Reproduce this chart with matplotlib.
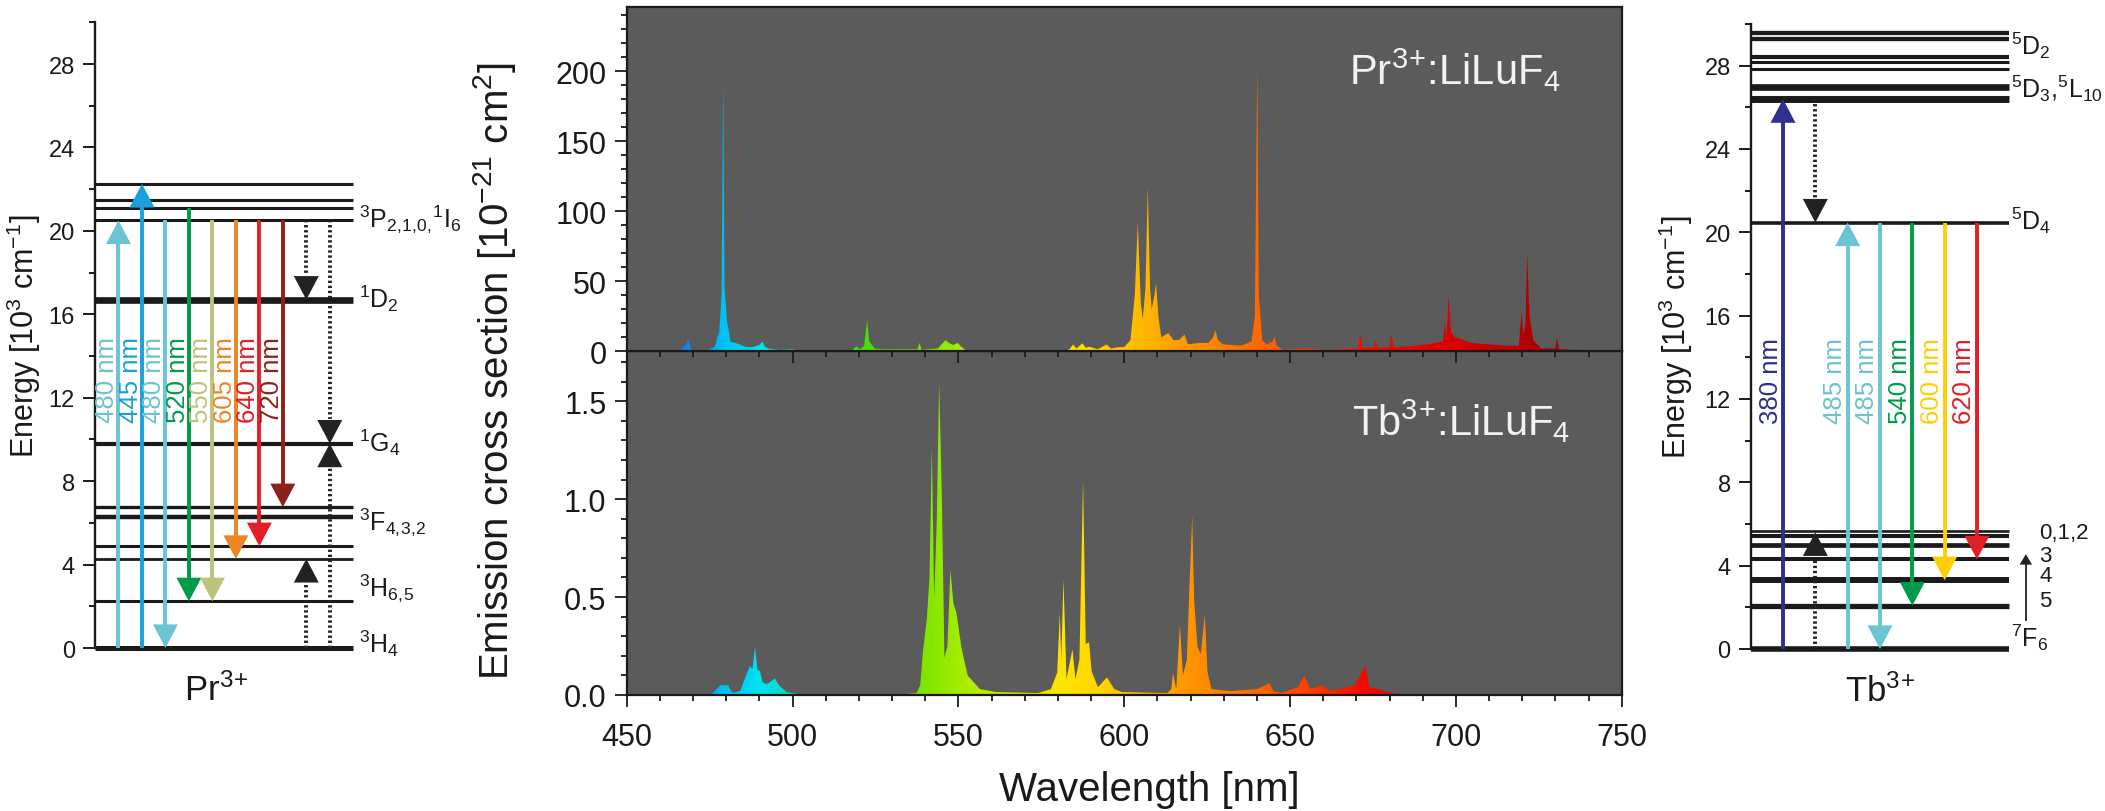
import numpy as np
import matplotlib
matplotlib.use("Agg")
import matplotlib.pyplot as plt
from matplotlib.colors import LinearSegmentedColormap
from matplotlib.patches import Polygon, FancyArrowPatch
from matplotlib.ticker import MultipleLocator, FormatStrFormatter

plt.rcParams['font.family'] = ['Liberation Sans', 'DejaVu Sans']
plt.rcParams['mathtext.fontset'] = 'custom'
plt.rcParams['mathtext.rm'] = 'Liberation Sans'
plt.rcParams['mathtext.it'] = 'Liberation Sans:italic'
plt.rcParams['mathtext.bf'] = 'Liberation Sans:bold'

INK = '#1a1a1a'
ION3 = r'$^{3}$$^{+}$'   # "3+" without operator spacing

# ---------------- Pr3+ energy levels (10^3 cm-1) ----------------
pr_levels = [0.0, 2.24, 4.27, 4.88, 6.3, 6.75, 9.8, 16.7, 20.5, 21.1, 21.5, 22.25]
pr_level_lw = [3.6, 2.2, 2.0, 2.2, 3.2, 2.4, 3.0, 4.8, 2.2, 2.2, 2.2, 2.2]
pr_terms = [r'$^{3}$P$_{2,\!1,\!0,\!}$$^{1}$I$_{6}$', r'$^{1}$D$_{2}$', r'$^{1}$G$_{4}$',
            r'$^{3}$F$_{4,\!3,\!2}$', r'$^{3}$H$_{6,\!5}$', r'$^{3}$H$_{4}$']
pr_term_y = [20.6, 16.8, 9.9, 6.1, 2.9, 0.25]

pr_nm = ['480 nm', '445 nm', '480 nm', '520 nm', '550 nm', '605 nm', '640 nm', '720 nm']
pr_from = [0.0, 0.0, 20.5, 21.1, 20.5, 20.5, 20.5, 20.5]
pr_to = [20.5, 22.25, 0.0, 2.24, 2.24, 4.27, 4.88, 6.75]
pr_colors = ['#6BC4D2', '#1AA0DF', '#6BC4D2', '#009B48', '#BDC27C', '#EE8423', '#E21F26', '#8C2219']
pr_slot = [1, 2, 3, 4, 5, 6, 7, 8]

# non-radiative / cross-relaxation steps
pr_nr_from = [20.5, 0.0, 20.5, 0.0]
pr_nr_to = [16.7, 4.27, 9.8, 9.8]
pr_nr_slot = [9, 9, 10, 10]

# ---------------- Tb3+ energy levels ----------------
tb_levels = [0.0, 2.08, 3.30, 4.30, 4.98, 5.44, 5.66, 20.47,
             26.39, 26.97, 27.83, 28.2, 28.42, 29.26, 29.55]
tb_level_lw = [4.0, 3.8, 4.3, 2.9, 3.4, 2.9, 1.9, 2.6, 5.0, 4.8, 2.2, 2.2, 3.0, 3.1, 3.1]
tb_terms = [r'$^{5}$D$_{2}$', r'$^{5}$D$_{3}$,$^{5}$L$_{10}$', r'$^{5}$D$_{4}$', r'$^{7}$F$_{6}$']
tb_term_y = [29.0, 26.95, 20.6, 0.6]
tb_j = ['0,1,2', '3', '4', '5']
tb_j_y = [5.6, 4.5, 3.55, 2.35]

tb_nm = ['380 nm', '485 nm', '485 nm', '540 nm', '600 nm', '620 nm']
tb_from = [0.0, 0.0, 20.47, 20.47, 20.47, 20.47]
tb_to = [26.39, 20.47, 0.0, 2.08, 3.30, 4.30]
tb_colors = ['#2E2F8E', '#6BC4D2', '#6BC4D2', '#009B48', '#FFCD05', '#E21F26']
tb_slot = [1, 3, 4, 5, 6, 7]

tb_nr_from = [26.39, 0.0]
tb_nr_to = [20.47, 5.6]
tb_nr_slot = [2, 2]

# ---------------- emission cross sections ----------------
pr_wl = [450, 465, 466.6, 468.0, 468.6, 469.3, 470.5, 474, 476.5, 477.9, 478.6, 479.1, 479.5,
         480.3, 480.9, 481.3, 482, 484, 486, 488, 490, 490.9, 491.8, 492.9, 495.9, 499.9,
         501.9, 504, 517.5, 519.3, 520.3, 521.6, 522.5, 523.1, 524.8, 527, 530, 536, 537.7,
         538.3, 538.9, 540.8, 543.8, 546.1, 547.2, 548.4, 549.8, 551, 552.4, 554, 582, 583.5,
         584.6, 585.6, 587.4, 588.4, 589.5, 592, 594.7, 596, 598.1, 600, 601.9, 603.2, 604.1,
         605.0, 605.6, 606.4, 607.1, 607.8, 608.3, 609.1, 609.6, 610.3, 611.2, 613.3, 614.9,
         616.5, 618.2, 619.2, 622.9, 625.4, 626.8, 627.5, 628.3, 629.7, 635.3, 638.4, 639.4,
         640.1, 640.6, 641.6, 643, 644.8, 645.3, 646, 647.8, 654.6, 661.4, 665.7, 670.5,
         671.1, 671.8, 675.3, 675.8, 676.4, 680.1, 680.6, 681.2, 686.2, 691.2, 696.1, 696.7,
         697.2, 697.8, 698.5, 699.8, 704.8, 709.7, 714.6, 719.0, 719.8, 720.4, 721.0, 721.5,
         722.2, 723.3, 725.8, 730.0, 730.5, 731.1, 735.7, 750]
pr_sigma = [0, 0, 1.5, 5, 8.8, 2, 0.5, 0.5, 3, 14, 40, 195, 45,
            20, 13, 7, 6.5, 5, 3, 3, 4.5, 6.9, 3, 2, 1, 1.5,
            0.5, 0, 0, 3.5, 1.5, 4, 22.5, 7, 2, 1.5, 1.5, 1.5, 1.5,
            6, 1, 1.5, 2, 7.9, 6, 4.5, 6, 3, 0.5, 0, 0, 1.5,
            4.8, 2, 5.7, 2.5, 3.3, 1.5, 4.8, 2, 2.9, 3, 8, 40, 92,
            35, 23, 45, 117, 45, 30, 40, 49, 25, 10, 13, 8,
            8, 12, 5, 6, 6, 10, 15, 8, 5, 4, 7, 25,
            207, 40, 8, 5, 7, 11, 4, 1, 2, 1, 1.5, 2,
            13.5, 2.5, 3, 8, 2.5, 3, 12.7, 3, 3.5, 5, 7, 20,
            9, 41, 14, 10, 6, 5, 4, 4, 28, 12, 20, 70.7,
            25, 8, 2, 2, 9.6, 1.5, 1, 0.5]

tb_wl = [450, 474, 476, 478.2, 480.6, 481.5, 482.1, 484.2, 486, 487.2, 487.9, 488.7, 489.4,
         490.2, 491, 492.2, 493.5, 494.7, 495.5, 496.2, 498.2, 502.2, 506, 534, 537.4, 538.5,
         539.3, 540.5, 541.3, 542, 542.7, 543.5, 544.2, 545, 545.8, 546.7, 547.6, 548.5,
         549.4, 551, 552.8, 556.5, 561.4, 574, 577.9, 579.8, 580.6, 581, 581.7, 582.6, 584.4,
         585.3, 586.5, 587.6, 588.4, 589.4, 590.2, 592.1, 594.8, 597, 599.4, 613, 614.2,
         614.7, 615.7, 616.8, 617.7, 618.9, 619.6, 620.5, 621.1, 622.1, 623.1, 624.3, 625.1,
         626.3, 632, 640, 643.8, 645, 647.4, 652.4, 654.3, 656.1, 659.7, 662, 664.7, 669.6,
         672.7, 673.9, 676.4, 678.2, 680.7, 686.8, 750]
tb_sigma = [0, 0, 0.01, 0.05, 0.05, 0.02, 0.012, 0.02, 0.1, 0.15, 0.13, 0.245, 0.13,
            0.12, 0.065, 0.055, 0.07, 0.085, 0.06, 0.045, 0.015, 0.004, 0, 0.005, 0.01, 0.05,
            0.22, 0.39, 0.6, 1.27, 0.49, 0.9, 1.595, 1.03, 0.19, 0.25, 0.64, 0.47,
            0.42, 0.235, 0.1, 0.03, 0.015, 0.01, 0.03, 0.115, 0.42, 0.18, 0.59, 0.08, 0.235,
            0.08, 0.18, 1.10, 0.26, 0.27, 0.12, 0.04, 0.09, 0.03, 0.015, 0.01, 0.03,
            0.11, 0.03, 0.36, 0.1, 0.18, 0.52, 0.915, 0.48, 0.245, 0.21, 0.41, 0.12,
            0.03, 0.02, 0.03, 0.06, 0.02, 0.01, 0.04, 0.10, 0.03, 0.05, 0.02, 0.03, 0.05,
            0.15, 0.04, 0.03, 0.02, 0.01, 0, 0]

# wavelength -> colour used to paint the spectra
spec_nm = [450, 468, 479, 490, 500, 515, 522, 540, 550, 565, 582, 595, 607, 620, 640, 655, 672, 700, 722, 750]
spec_hex = ['#1060FF', '#0A8CF0', '#00C3F3', '#00E3EE', '#12D8B0', '#30E040', '#48E000',
            '#80E600', '#A6EC00', '#D6E800', '#FFE400', '#FFD000', '#FFB400', '#FF9400',
            '#FF6A00', '#FF4000', '#F50A00', '#DC0000', '#B40000', '#8C0000']
spec_cmap = LinearSegmentedColormap.from_list(
    'spec', [((n - 450) / 300, c) for n, c in zip(spec_nm, spec_hex)])

W, H = 2105, 812
fig = plt.figure(figsize=(W / 100, H / 100), dpi=100)


def px_rect(x0, y0, x1, y1):
    return [x0 / W, 1 - y1 / H, (x1 - x0) / W, (y1 - y0) / H]


def arrow(ax, x, y0, y1, color, dotted=False, lw=2.8, hl=17, hw=9):
    # points -> data units along y
    pts_per_unit = ax.get_position().height * H / 100 * 72 / 30.0
    sign = 1 if y1 > y0 else -1
    hl_u = hl / pts_per_unit
    end = y1 - sign * hl_u * (1.05 if dotted else 0.6)
    ax.plot([x, x], [y0, end], color=color, lw=lw,
            ls=(0, (0.6, 0.7)) if dotted else '-',
            solid_capstyle='butt', dash_capstyle='butt', clip_on=False, zorder=3)
    head = FancyArrowPatch((x, y1 - sign * hl_u), (x, y1),
                           arrowstyle=f'-|>,head_length={hl},head_width={hw}',
                           mutation_scale=1, lw=0, color=color,
                           shrinkA=0, shrinkB=0, clip_on=False, zorder=4)
    ax.add_patch(head)


def energy_axes(rect):
    ax = fig.add_axes(rect)
    ax.set_xlim(0, 1)
    ax.set_ylim(0, 30)
    for s in ('top', 'right', 'bottom'):
        ax.spines[s].set_visible(False)
    ax.spines['left'].set_linewidth(1.7)
    ax.spines['left'].set_color(INK)
    ax.set_xticks([])
    ax.yaxis.set_major_locator(MultipleLocator(4))
    ax.yaxis.set_minor_locator(MultipleLocator(2))
    ax.tick_params(axis='y', which='major', length=8.4, width=1.4, labelsize=17,
                   pad=6, colors=INK)
    ax.tick_params(axis='y', which='minor', length=4.2, width=1.4, colors=INK)
    ax.set_ylabel(r'Energy [10$^{3}$ cm$^{-1}$]', fontsize=22, color=INK)
    return ax


# ---- Pr3+ diagram ----
ax_pr = energy_axes(px_rect(95, 23.3, 353, 649))
ax_pr.yaxis.set_label_coords(-0.20, 0.5)
ax_pr.hlines(pr_levels, 0, 1, colors=INK, lw=pr_level_lw, clip_on=False, zorder=2)
for t, y in zip(pr_terms, pr_term_y):
    ax_pr.text(1.023, y, t, fontsize=18, color=INK, ha='left', va='center', clip_on=False)
step = 0.091
for nm, y0, y1, c, s in zip(pr_nm, pr_from, pr_to, pr_colors, pr_slot):
    arrow(ax_pr, s * step, y0, y1, c)
    ax_pr.annotate(nm, (s * step, 12.9), xytext=(-8, 0), textcoords='offset points',
                   rotation=90, ha='center', va='center', fontsize=18.5, color=c)
for y0, y1, s in zip(pr_nr_from, pr_nr_to, pr_nr_slot):
    arrow(ax_pr, s * step, y0, y1, '#222222', dotted=True)
ax_pr.text(0.47, -2.0, 'Pr' + ION3, fontsize=25, color=INK, ha='center', va='center',
           clip_on=False)

# ---- Tb3+ diagram ----
ax_tb = energy_axes(px_rect(1750.7, 25, 2009.3, 650))
ax_tb.yaxis.set_label_coords(-0.215, 0.5)
ax_tb.hlines(tb_levels, 0, 1, colors=INK, lw=tb_level_lw, clip_on=False, zorder=2)
for t, y in zip(tb_terms, tb_term_y):
    ax_tb.text(1.005, y, t, fontsize=18, color=INK, ha='left', va='center', clip_on=False)
for t, y in zip(tb_j, tb_j_y):
    ax_tb.text(1.115, y, t, fontsize=16, color=INK, ha='left', va='center', clip_on=False)
step = 0.125
for nm, y0, y1, c, s in zip(tb_nm, tb_from, tb_to, tb_colors, tb_slot):
    arrow(ax_tb, s * step, y0, y1, c)
    ax_tb.annotate(nm, (s * step, 12.9), xytext=(-9, 0), textcoords='offset points',
                   rotation=90, ha='center', va='center', fontsize=18.5, color=c)
for y0, y1, s in zip(tb_nr_from, tb_nr_to, tb_nr_slot):
    arrow(ax_tb, s * step, y0, y1, '#222222', dotted=True)
# J-sequence arrow of the 7F multiplet
arrow(ax_tb, 1.064, 1.36, 4.55, '#222222', lw=1.3, hl=7.5, hw=4.5)
ax_tb.text(0.5, -2.0, 'Tb' + ION3, fontsize=25, color=INK, ha='center', va='center',
           clip_on=False)


# ---- emission spectra ----
def spectrum_axes(rect, wl, sig, ymax, label, label_xy):
    ax = fig.add_axes(rect)
    ax.set_facecolor('#5B5B5B')
    grad = np.linspace(450, 750, 1500)[None, :]
    im = ax.imshow(grad, extent=(450, 750, 0, ymax), cmap=spec_cmap, vmin=450, vmax=750,
                   aspect='auto', origin='lower', interpolation='bilinear', zorder=2)
    verts = np.column_stack([np.r_[wl[0], wl, wl[-1]], np.r_[0, sig, 0]])
    outline = Polygon(verts, closed=True, facecolor='none', edgecolor='none')
    ax.add_patch(outline)
    im.set_clip_path(outline)
    ax.set_xlim(450, 750)
    ax.set_ylim(0, ymax)
    for s in ax.spines.values():
        s.set_linewidth(1.6)
        s.set_color(INK)
    ax.xaxis.set_major_locator(MultipleLocator(50))
    ax.xaxis.set_minor_locator(MultipleLocator(10))
    ax.tick_params(which='major', length=8.6, width=1.3, labelsize=22, colors=INK)
    ax.tick_params(which='minor', length=4.4, width=1.3, colors=INK)
    ax.tick_params(axis='y', pad=6)
    ax.tick_params(axis='x', pad=11)
    ax.text(label_xy[0], label_xy[1], label, transform=ax.transAxes, fontsize=30,
            color='#F2F2F2', ha='left', va='center', zorder=5)
    return ax


ax_b = spectrum_axes(px_rect(626.7, 352.3, 1621.7, 696), tb_wl, tb_sigma, 1.755,
                     'Tb' + ION3 + r':LiLuF$_{4}$', (0.729, 0.80))
ax_b.yaxis.set_major_locator(MultipleLocator(0.5))
ax_b.yaxis.set_minor_locator(MultipleLocator(0.1))
ax_b.yaxis.set_major_formatter(FormatStrFormatter('%.1f'))

ax_t = spectrum_axes(px_rect(626.7, 8.3, 1621.7, 352.3), pr_wl, pr_sigma, 245.7,
                     'Pr' + ION3 + r':LiLuF$_{4}$', (0.726, 0.818))
ax_t.set_zorder(3)
ax_t.yaxis.set_major_locator(MultipleLocator(50))
ax_t.yaxis.set_minor_locator(MultipleLocator(10))
ax_t.tick_params(axis='x', labelbottom=False)

fig.text(495 / W, 1 - 371.5 / H, r'Emission cross section [10$^{-21}$ cm$^{2}$]',
         rotation=90, ha='center', va='center', fontsize=29, color=INK)
fig.text(1149 / W, 1 - 790 / H, 'Wavelength [nm]', ha='center', va='center',
         fontsize=29, color=INK)

fig.savefig('out.png', dpi=100)
